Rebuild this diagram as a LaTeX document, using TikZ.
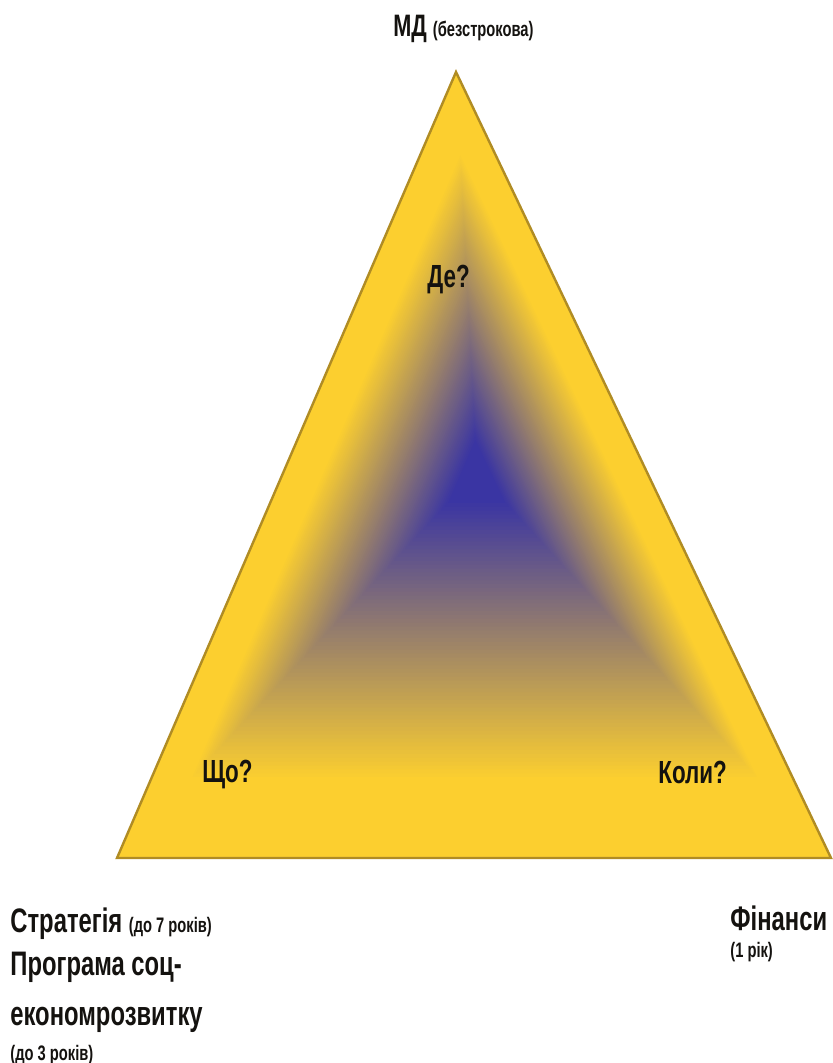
\documentclass[tikz,border=0pt]{standalone}
\usepackage{fontspec}
\setmainfont{Liberation Sans}[FakeStretch=0.7]
\usetikzlibrary{calc}
\definecolor{trigold}{RGB}{252,207,47}
\definecolor{triblue}{RGB}{58,53,163}
\definecolor{triedge}{RGB}{176,140,36}
\definecolor{inktxt}{RGB}{20,18,15}
\newcommand{\smallnote}[1]{{\fontsize{10.5}{12}\selectfont#1}}

\begin{document}
\begin{tikzpicture}[
x=0.5pt,y=-0.5pt,
bigtxt/.style={anchor=base west,inner sep=0pt,text=inktxt,
  font=\bfseries\fontsize{17}{20}\selectfont},
asktxt/.style={bigtxt,font=\bfseries\fontsize{16}{19}\selectfont},
titletxt/.style={bigtxt,font=\bfseries\fontsize{15.5}{18}\selectfont}
]
\useasboundingbox (0,0) rectangle (832,1063);

\coordinate (top) at (456,72);
\coordinate (lft) at (117,858);
\coordinate (rgt) at (831,858);
\coordinate (c) at (477,472);

% shaded triangle, gold at the rim, blue in the middle
\foreach \i in {0,...,100}{
  \pgfmathsetmacro\t{1-\i/100}
  \pgfmathsetmacro\p{max(0,min(100,(\t-0.08)/0.72*100))}
  \fill[trigold!\p!triblue] ($(c)!\t!(top)$) -- ($(c)!\t!(lft)$) -- ($(c)!\t!(rgt)$) -- cycle;
}
\draw[triedge,line width=1.2] (top) -- (lft) -- (rgt) -- cycle;

\node[titletxt] (md) at (393,37) {МД \smallnote{(безстрокова)}};
\node[asktxt] (de) at (427,288) {Де?};
\node[asktxt] (scho) at (202,782) {Що?};
\node[asktxt] (koly) at (658,783) {Коли?};

\node[bigtxt] (strat) at (10,932) {Стратегія \smallnote{(до 7 років)}};
\node[bigtxt] (prog) at (10,975) {Програма соц-};
\node[bigtxt] (econ) at (10,1025) {економрозвитку};
\node[bigtxt] (prog3) at (10,1060) {\smallnote{(до 3 років)}};
\node[bigtxt] (fin) at (730,930) {Фінанси};
\node[bigtxt] (fin1) at (730,957) {\smallnote{(1 рік)}};

\end{tikzpicture}
\end{document}
